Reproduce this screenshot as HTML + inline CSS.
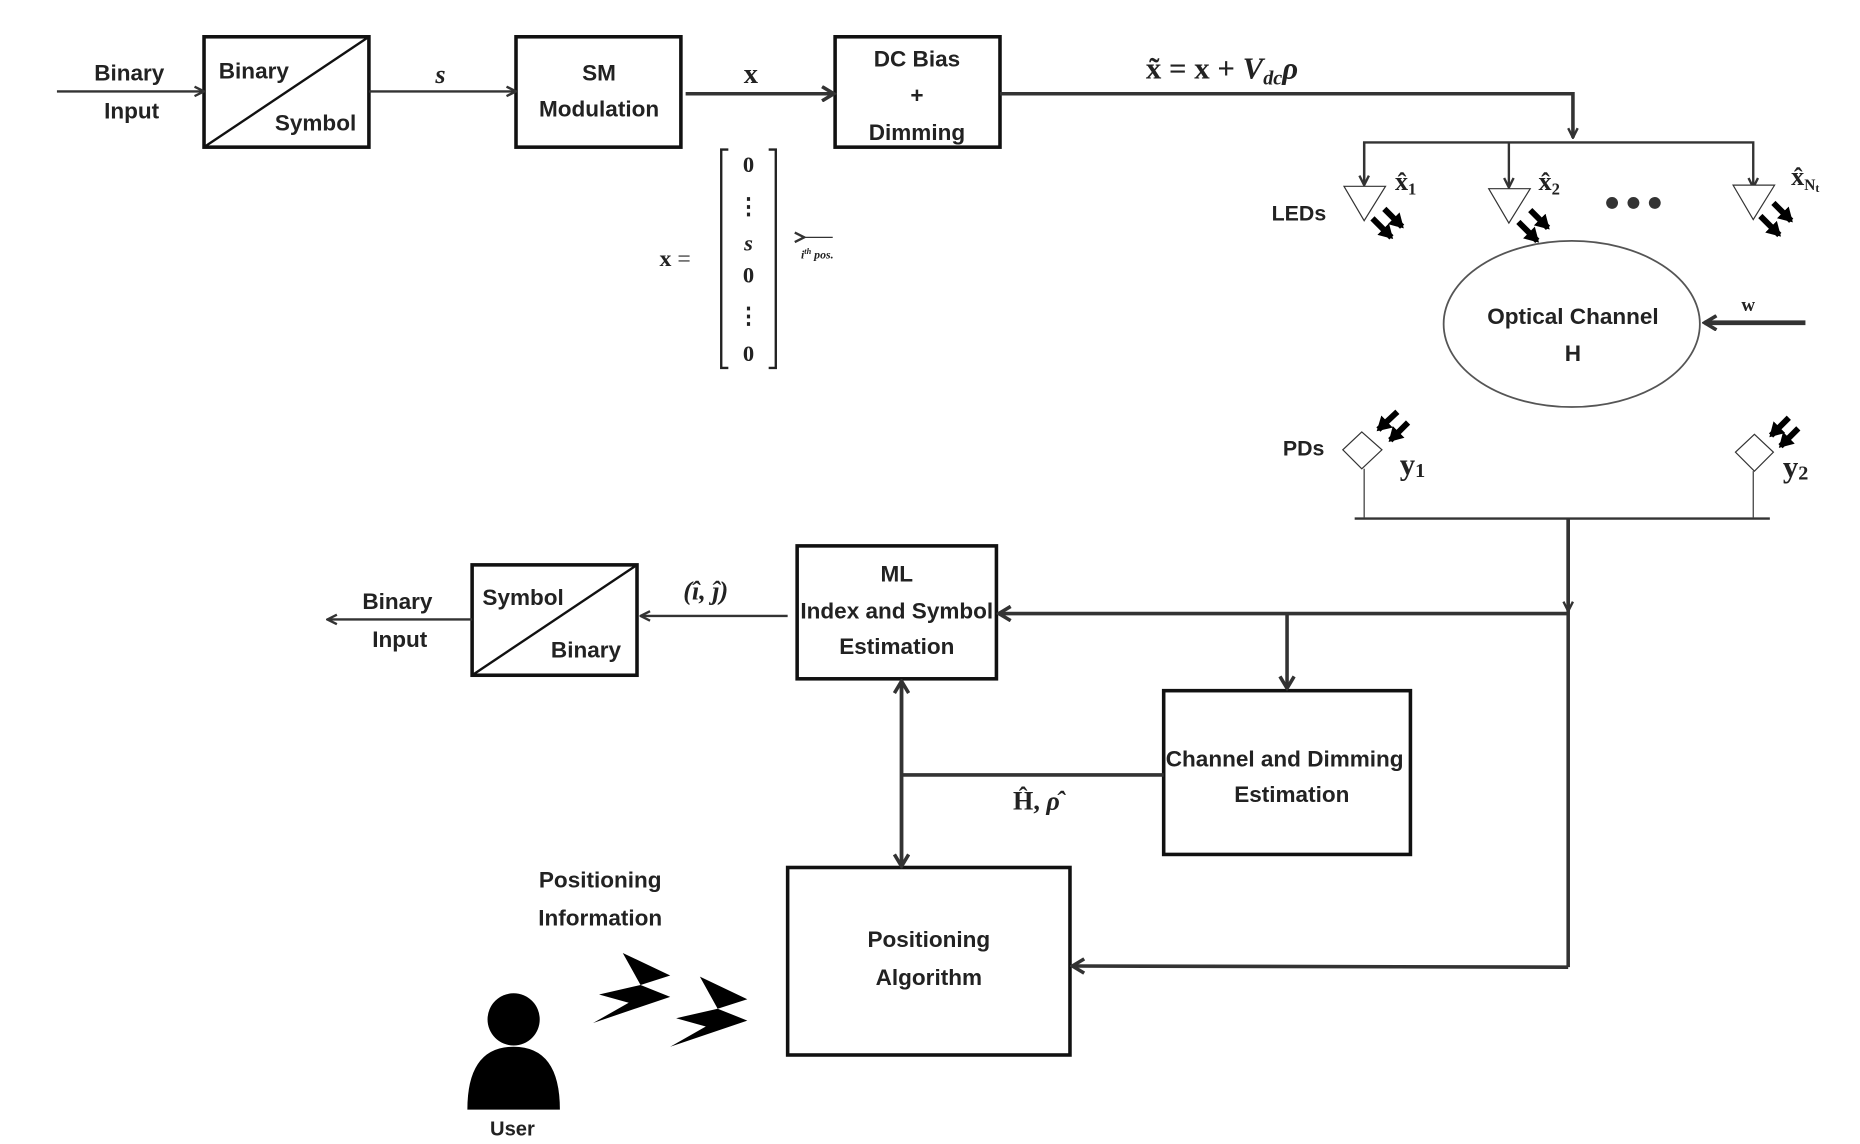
<!DOCTYPE html>
<html><head><meta charset="utf-8"><style>
html,body{margin:0;padding:0;background:#fff;}
svg{display:block;}
text{font-family:"Liberation Sans",sans-serif;font-weight:bold;fill:#222;}
.m{font-family:"Liberation Serif",serif;}
</style></head><body>
<svg width="1860" height="1144" viewBox="0 0 1568 964" preserveAspectRatio="none" xmlns="http://www.w3.org/2000/svg">
<defs>
<marker id="a" markerWidth="10" markerHeight="10" refX="9" refY="5" orient="auto" markerUnits="userSpaceOnUse"><path d="M1,1 L9,5 L1,9" fill="none" stroke="#333" stroke-width="2"/></marker>
<marker id="b" markerWidth="14" markerHeight="14" refX="12" refY="7" orient="auto" markerUnits="userSpaceOnUse"><path d="M2,1 L12,7 L2,13" fill="none" stroke="#333" stroke-width="3"/></marker>
<marker id="k" markerWidth="14" markerHeight="14" refX="10" refY="7" orient="auto" markerUnits="userSpaceOnUse"><path d="M0,0 L12,7 L0,14Z" fill="#000"/></marker>
</defs>
<g stroke="#111" fill="none" stroke-width="3">
<rect x="172" y="31" width="139" height="93"/><line x1="172" y1="124" x2="311" y2="31" stroke-width="2"/>
<rect x="435" y="31" width="139" height="93"/>
<rect x="704" y="31" width="139" height="93"/>
<rect x="398" y="476" width="139" height="93"/><line x1="398" y1="569" x2="537" y2="476" stroke-width="2"/>
<rect x="672" y="460" width="168" height="112"/>
<rect x="981" y="582" width="208" height="138"/>
<rect x="664" y="731" width="238" height="158"/>
</g>
<g stroke="#333" fill="none" stroke-width="2">
<line x1="48" y1="77" x2="172" y2="77" marker-end="url(#a)"/>
<line x1="311" y1="77" x2="435" y2="77" marker-end="url(#a)"/>
<line x1="578" y1="79" x2="703" y2="79" stroke-width="3" marker-end="url(#b)"/>
<polyline points="843,79 1326,79 1326,116" stroke-width="3" marker-end="url(#a)"/>
<polyline points="1150,152 1150,120 1478,120 1478,158" marker-end="url(#a)"/>
<line x1="1272" y1="120" x2="1272" y2="158" marker-end="url(#a)"/>
<line x1="1150" y1="120" x2="1150" y2="156" marker-end="url(#a)"/>
<ellipse cx="1325" cy="273" rx="108" ry="70" stroke="#555" stroke-width="1.5"/>
<line x1="1522" y1="272" x2="1437" y2="272" stroke-width="4" marker-end="url(#b)"/>
<line x1="1150" y1="395" x2="1150" y2="436" stroke-width="1"/>
<line x1="1478" y1="397" x2="1478" y2="436" stroke-width="1"/>
<line x1="1142" y1="437" x2="1492" y2="437"/>
<line x1="1322" y1="437" x2="1322" y2="815" stroke-width="3"/>
<line x1="1322" y1="437" x2="1322" y2="515" stroke-width="3" marker-end="url(#a)"/>
<line x1="1322" y1="517" x2="842" y2="517" stroke-width="3" marker-end="url(#b)"/>
<line x1="1085" y1="517" x2="1085" y2="580" stroke-width="3" marker-end="url(#b)"/>
<line x1="1322" y1="815" x2="904" y2="814" stroke-width="3" marker-end="url(#b)"/>
<line x1="760" y1="574" x2="760" y2="730" stroke-width="3" marker-end="url(#b)"/>
<line x1="760" y1="730" x2="760" y2="574" stroke-width="3" marker-end="url(#b)"/>
<line x1="760" y1="653" x2="981" y2="653" stroke-width="3"/>
<line x1="664" y1="519" x2="540" y2="519" marker-end="url(#a)"/>
<line x1="398" y1="522" x2="276" y2="522" marker-end="url(#a)"/>
</g>
<g fill="#fff" stroke="#333" stroke-width="1">
<path d="M1133,157 L1168,157 L1150,186Z"/><path d="M1255,159 L1290,159 L1272,188Z"/><path d="M1461,156 L1496,156 L1478,185Z"/>
<path d="M1148,364 L1165,379 L1148,395 L1132,379Z"/><path d="M1479,366 L1495,381 L1479,397 L1463,381Z"/>
</g>
<g stroke="#000" stroke-width="5" marker-end="url(#k)">
<line x1="1157" y1="184" x2="1173" y2="200"/><line x1="1167" y1="176" x2="1182" y2="191"/>
<line x1="1280" y1="187" x2="1296" y2="203"/><line x1="1290" y1="177" x2="1305" y2="192"/>
<line x1="1484" y1="182" x2="1500" y2="198"/><line x1="1495" y1="171" x2="1510" y2="186"/>
<line x1="1178" y1="347" x2="1162" y2="362"/><line x1="1187" y1="356" x2="1172" y2="371"/>
<line x1="1508" y1="352" x2="1493" y2="367"/><line x1="1516" y1="361" x2="1501" y2="376"/>
</g>
<g fill="#333"><circle cx="1359" cy="171" r="5"/><circle cx="1377" cy="171" r="5"/><circle cx="1395" cy="171" r="5"/></g>
<g font-size="19" text-anchor="middle">
<text x="109" y="68">Binary</text><text x="111" y="100">Input</text>
<text x="214" y="66">Binary</text><text x="266" y="110">Symbol</text>
<text x="505" y="68">SM</text><text x="505" y="98">Modulation</text>
<text x="773" y="56">DC Bias</text><text x="773" y="87">+</text><text x="773" y="118">Dimming</text>
<text x="1095" y="186" font-size="18">LEDs</text><text x="1099" y="384" font-size="18">PDs</text>
<text x="1326" y="273">Optical Channel</text><text x="1326" y="304">H</text>
<text x="335" y="513">Binary</text><text x="337" y="545">Input</text>
<text x="441" y="510">Symbol</text><text x="494" y="554">Binary</text>
<text x="756" y="490">ML</text><text x="756" y="521">Index and Symbol</text><text x="756" y="551">Estimation</text>
<text x="1083" y="646">Channel and Dimming</text><text x="1089" y="676">Estimation</text>
<text x="783" y="798">Positioning</text><text x="783" y="830">Algorithm</text>
<text x="506" y="748">Positioning</text><text x="506" y="780">Information</text>
<text x="432" y="957" font-size="17">User</text>
</g>
<g class="m" font-size="22">
<text class="m" x="367" y="70" font-style="italic" font-weight="normal">s</text>
<text class="m" x="627" y="70" font-size="24">x</text>
<text class="m" x="966" y="66" font-size="26" font-weight="normal">x̃ = <tspan font-weight="bold">x</tspan> + <tspan font-style="italic">V</tspan><tspan font-size="17" font-style="italic" dy="5">dc</tspan><tspan font-weight="bold" font-style="italic" dy="-5">ρ</tspan></text>
<text class="m" x="1176" y="160">x̂<tspan font-size="14" dy="4">1</tspan></text>
<text class="m" x="1297" y="160">x̂<tspan font-size="14" dy="4">2</tspan></text>
<text class="m" x="1510" y="156">x̂<tspan font-size="13" dy="4">N</tspan><tspan font-size="10" dy="2">t</tspan></text>
<text class="m" x="1468" y="262" font-size="16">w</text>
<text class="m" x="1180" y="400" font-size="26">y<tspan font-size="17" dy="2">1</tspan></text>
<text class="m" x="1503" y="402" font-size="26">y<tspan font-size="17" dy="2">2</tspan></text>
<text class="m" x="576" y="505" font-weight="normal" font-style="italic">(î, ĵ)</text>
<text class="m" x="854" y="682">Ĥ, <tspan font-style="italic">ρ̂</tspan></text>
<text class="m" x="556" y="224" font-size="20">x <tspan font-weight="normal">=</tspan></text>
</g>
<g fill="none" stroke="#222" stroke-width="2">
<polyline points="614,126 608,126 608,310 614,310"/><polyline points="648,126 654,126 654,310 648,310"/>
</g>
<g class="m" font-size="19" font-weight="normal" text-anchor="middle">
<text class="m" x="631" y="145" font-weight="normal">0</text>
<text class="m" x="631" y="180" font-weight="normal">⋮</text>
<text class="m" x="631" y="211" font-weight="normal" font-style="italic">s</text>
<text class="m" x="631" y="238" font-weight="normal">0</text>
<text class="m" x="631" y="272" font-weight="normal">⋮</text>
<text class="m" x="631" y="304" font-weight="normal">0</text>
<text class="m" x="689" y="218" font-size="10" font-weight="normal" font-style="italic">i<tspan font-size="7" dy="-4">th</tspan><tspan dy="4"> pos.</tspan></text>
</g>
<line x1="678" y1="200" x2="702" y2="200" stroke="#333" stroke-width="1" marker-start="url(#a)"/>
<g fill="#000">
<path d="M545,803 L585,822 L560,830 L585,840 L520,862 L550,845 L525,838 L560,830Z" transform="translate(-20,0)"/>
<path d="M545,803 L585,822 L560,830 L585,840 L520,862 L550,845 L525,838 L560,830Z" transform="translate(45,20)"/>
<circle cx="433" cy="859" r="22"/>
<path d="M394,935 Q394,882 433,882 Q472,882 472,935Z"/>
</g>
</svg>
</body></html>
